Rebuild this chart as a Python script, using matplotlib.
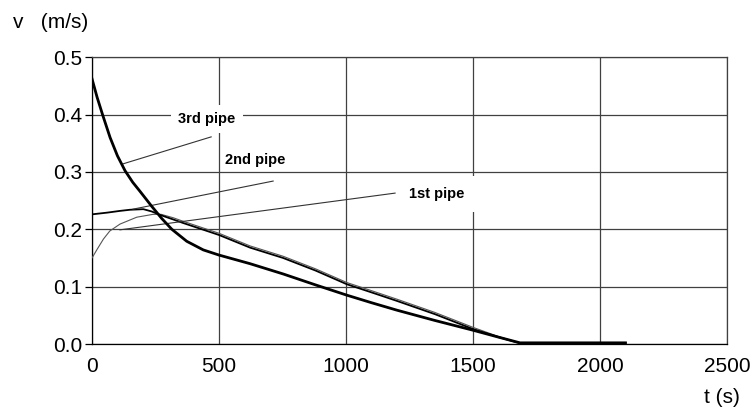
import numpy as np
import matplotlib.pyplot as plt

plt.rcParams['font.family'] = ['Liberation Sans', 'DejaVu Sans']

# pipe 3 (thick)
t3 = [0, 20, 42, 71, 100, 130, 160, 189, 235, 274, 314, 373, 438, 500, 622, 753, 880, 1004, 1100, 1200, 1350, 1500, 1600, 1685, 2100]
v3 = [0.462, 0.430, 0.399, 0.360, 0.328, 0.302, 0.282, 0.266, 0.240, 0.219, 0.200, 0.179, 0.164, 0.155, 0.140, 0.122, 0.103, 0.085, 0.072, 0.059, 0.041, 0.024, 0.012, 0.002, 0.002]

# pipe 2 (medium)
t2 = [0, 60, 110, 150, 202, 235, 268, 320, 358, 500, 622, 752, 880, 1004, 1100, 1201, 1350, 1500, 1600, 1680, 2100]
v2 = [0.226, 0.229, 0.232, 0.234, 0.235, 0.231, 0.225, 0.217, 0.211, 0.190, 0.168, 0.150, 0.128, 0.104, 0.090, 0.075, 0.052, 0.026, 0.012, 0.002, 0.002]

# pipe 1 (thin)
t1 = [0, 20, 45, 70, 110, 176, 240, 272, 320, 358, 500, 622, 752, 880, 1004, 1100, 1201, 1350, 1500, 1600, 1680, 2100]
v1 = [0.150, 0.165, 0.183, 0.197, 0.209, 0.221, 0.226, 0.226, 0.220, 0.214, 0.193, 0.171, 0.153, 0.131, 0.107, 0.093, 0.078, 0.055, 0.029, 0.013, 0.002, 0.002]

# labels: text position and leader line (start on curve, end near text)
labels = ["3rd pipe", "2nd pipe", "1st pipe"]
label_pos = [(453, 0.392), (642, 0.321), (1358, 0.261)]
label_pad = [5, 1.5, 8]
leaders = [((122, 0.314), (469, 0.361)),
           ((161, 0.235), (713, 0.284)),
           ((110, 0.199), (1193, 0.263))]

fig = plt.figure(figsize=(7.55, 4.11), dpi=100)
ax = fig.add_axes([0.1219, 0.163, 0.8411, 0.698])

ax.plot(t1, v1, color='#555555', lw=0.8, zorder=3)
ax.plot(t2, v2, color='black', lw=1.3, zorder=3)
ax.plot(t3, v3, color='black', lw=2.0, zorder=4)

for (p0, p1) in leaders:
    ax.plot([p0[0], p1[0]], [p0[1], p1[1]], color='#333333', lw=0.8, zorder=3)

for text, (x, y), pad in zip(labels, label_pos, label_pad):
    ax.text(x, y, text, ha='center', va='center', fontsize=10.5, fontweight='bold',
            bbox=dict(facecolor='white', edgecolor='none', pad=pad), zorder=5)

ax.set_xlim(0, 2500)
ax.set_ylim(0, 0.5)
ax.set_xticks([0, 500, 1000, 1500, 2000, 2500])
ax.set_yticks([0.0, 0.1, 0.2, 0.3, 0.4, 0.5])
ax.set_yticklabels(['0.0', '0.1', '0.2', '0.3', '0.4', '0.5'])
ax.grid(True, color='#404040', lw=0.9)
ax.set_axisbelow(True)
for s in ax.spines.values():
    s.set_color('#404040')
    s.set_linewidth(0.9)
ax.spines['left'].set_color('black')
ax.spines['bottom'].set_color('black')
ax.tick_params(axis='y', length=5, width=0.9, pad=2, labelsize=15)
ax.tick_params(axis='x', length=0, pad=9, labelsize=15)

fig.text(13 / 755, 1 - 22 / 411, "v   (m/s)", fontsize=15, ha='left', va='center')
fig.text(722 / 755, 1 - 397 / 411, "t (s)", fontsize=15, ha='center', va='center')

fig.savefig('out.png', dpi=100)
